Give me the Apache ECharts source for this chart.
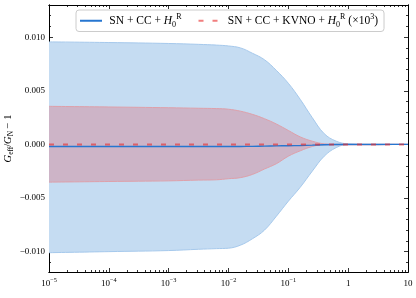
<!DOCTYPE html>
<html><head><meta charset="utf-8">
<script src="https://cdn.jsdelivr.net/npm/echarts@6.0.0/dist/echarts.min.js"></script>
<style>html,body{margin:0;padding:0;background:#fff}#c{width:416px;height:298px}</style>
</head><body><div id="c"></div>
<script>
const z = [1e-5, 1e-4, 1e-3, 0.00316, 0.0063, 0.01, 0.0158, 0.0251, 0.0398, 0.0631, 0.1, 0.158, 0.251, 0.398, 0.631, 1, 3.16, 10];
const blueUpper = [0.00956, 0.0095, 0.00941, 0.00933, 0.00926, 0.00918, 0.0090, 0.0085, 0.0079, 0.0069, 0.0057, 0.0042, 0.0025, 0.0010, 0.0003, 0.00005, 0, 0];
const blueLower = [-0.0101, -0.0100, -0.0099, -0.00978, -0.00972, -0.00968, -0.0094, -0.0088, -0.0080, -0.0067, -0.0053, -0.0040, -0.0025, -0.0011, -0.0003, 0, 0, 0];
const redUpper = [0.00355, 0.00349, 0.00342, 0.00337, 0.00334, 0.00328, 0.0031, 0.0028, 0.0024, 0.0019, 0.0013, 0.0007, 0.0003, 0.00005, 0, 0, 0, 0];
const redLower = [-0.00352, -0.00346, -0.0034, -0.00333, -0.0033, -0.0032, -0.0031, -0.0028, -0.0023, -0.0018, -0.0011, -0.0006, -0.0002, 0, 0, 0, 0, 0];
const blueLine = [-0.0002, -0.0002, -0.0002, -0.0002, -0.0002, -0.0002, -0.00019, -0.00018, -0.00016, -0.00014, -0.00012, -0.0001, -0.00007, -0.00003, -0.00001, 0, 0, 0];
const redLine = [0, 0, 0, 0, 0, 0, 0, 0, 0, 0, 0, 0, 0, 0, 0, 0, 0, 0];
const yTicks = [-0.01, -0.005, 0, 0.005, 0.01];
const yMinor = [-0.011, -0.009, -0.008, -0.007, -0.006, -0.004, -0.003, -0.002, -0.001, 0.001, 0.002, 0.003, 0.004, 0.006, 0.007, 0.008, 0.009, 0.011, 0.012];
const xTicks = [1e-5, 1e-4, 1e-3, 1e-2, 1e-1, 1, 10];
const xTickLabels = ['10{sup|−5}', '10{sup|−4}', '10{sup|−3}', '10{sup|−2}', '10{sup|−1}', '1', '10'];
const xMinor = [2e-5,3e-5,4e-5,5e-5,6e-5,7e-5,8e-5,9e-5,
  2e-4,3e-4,4e-4,5e-4,6e-4,7e-4,8e-4,9e-4,
  2e-3,3e-3,4e-3,5e-3,6e-3,7e-3,8e-3,9e-3,
  2e-2,3e-2,4e-2,5e-2,6e-2,7e-2,8e-2,9e-2,
  0.2,0.3,0.4,0.5,0.6,0.7,0.8,0.9,
  2,3,4,5,6,7,8,9];
const legendNames = ['SN + CC + H0R', 'SN + CC + KVNO + H0R (×10³)'];
const legendRich = ['\u2009SN + CC + {i|H}{sub|0}{sup|R}', '\u2009SN + CC + KVNO + {i|H}{sub|0}{sup|R} (×10{sup|3})'];

const FONT = 'Liberation Serif';
const X_MIN = 1e-5, X_MAX = 10, Y_MIN = -0.0119, Y_MAX = 0.013;

function pairs(a) { return z.map((x, i) => [x, a[i]]); }

function richSet(base) {
  const lh = base + 4, s = base * 0.7;
  return {
    sup: { fontSize: s, verticalAlign: 'top', lineHeight: lh, fontFamily: FONT, color: '#000' },
    sub: { fontSize: s, verticalAlign: 'bottom', lineHeight: lh, fontFamily: FONT, color: '#000' },
    i: { fontStyle: 'italic', fontSize: base, lineHeight: lh, fontFamily: FONT, color: '#000' }
  };
}

function xAxisDef(pos, major) {
  return {
    type: 'log', min: X_MIN, max: X_MAX, position: pos,
    axisLine: { show: true, onZero: false, lineStyle: { color: '#000', width: 1 } },
    axisTick: { show: true, inside: true, length: major ? 4 : 2, customValues: major ? xTicks : xMinor, lineStyle: { color: '#000', width: 0.8 } },
    axisLabel: (pos === 'bottom' && major) ? {
      show: true, customValues: xTicks, margin: 5, fontFamily: FONT, fontSize: 9, color: '#000', lineHeight: 13,
      formatter: function (v) { const e = Math.round(Math.log10(v)); return xTickLabels[e + 5]; },
      rich: richSet(9)
    } : { show: false },
    splitLine: { show: false }, minorTick: { show: false }, minorSplitLine: { show: false },
    name: (pos === 'bottom' && major) ? 'z' : '', nameLocation: 'middle', nameGap: 19,
    nameTextStyle: { fontFamily: FONT, fontStyle: 'italic', fontSize: 10, color: '#000' }
  };
}
function yAxisDef(pos, major) {
  return {
    type: 'value', min: Y_MIN, max: Y_MAX, position: pos,
    axisLine: { show: true, onZero: false, lineStyle: { color: '#000', width: 1 } },
    axisTick: { show: true, inside: true, length: major ? 4 : 2, customValues: major ? yTicks : yMinor, lineStyle: { color: '#000', width: 0.8 } },
    axisLabel: (pos === 'left' && major) ? {
      show: true, customValues: yTicks, margin: 4, fontFamily: FONT, fontSize: 9, color: '#000',
      formatter: function (v) { return (v < -1e-9 ? '−' : '') + Math.abs(v).toFixed(3); }
    } : { show: false },
    splitLine: { show: false },
    name: (pos === 'left' && major) ? '{i|G}{sub|eff}/{i|G}{sub|N} − 1' : '',
    nameLocation: 'middle', nameRotate: 90, nameGap: 34, nameMoveOverlap: false,
    nameTextStyle: { fontFamily: FONT, fontSize: 10.5, color: '#000', lineHeight: 14, rich: richSet(10.5) }
  };
}

function band(name, arr, stroke, fill, origin, zz) {
  return { name: name, type: 'line', data: pairs(arr), symbol: 'none', smooth: 0.4, silent: true, z: zz,
    lineStyle: { color: stroke, width: 1 }, areaStyle: { color: fill, opacity: 1, origin: origin } };
}

const chart = echarts.init(document.getElementById('c'), null, { renderer: 'canvas' });
chart.setOption({
  animation: false,
  backgroundColor: '#fff',
  grid: { left: 49, right: 8, top: 5, bottom: 26, outerBoundsMode: 'none', containLabel: false },
  legend: {
    data: legendNames, left: 76, top: 10, orient: 'horizontal',
    padding: [3, 6, 3, 3], itemGap: 16, itemWidth: 22, itemHeight: 10,
    borderColor: '#cccccc', borderWidth: 1, borderRadius: 3, backgroundColor: '#fff',
    itemStyle: { opacity: 0 },
    textStyle: { fontFamily: FONT, fontSize: 11.5, color: '#000', lineHeight: 14, rich: richSet(11.5) },
    formatter: function (n) { return legendRich[legendNames.indexOf(n)]; }
  },
  xAxis: [xAxisDef('bottom', true), xAxisDef('bottom', false), xAxisDef('top', true), xAxisDef('top', false)],
  yAxis: [yAxisDef('left', true), yAxisDef('left', false), yAxisDef('right', true), yAxisDef('right', false)],
  series: [
    band('bu', blueUpper, '#a6c9ec', '#c5dcf2', -0.0001, 1),
    band('bl', blueLower, '#a6c9ec', '#c5dcf2', 0, 1),
    band('ru', redUpper, '#dea0aa', '#cdb4c7', -0.0001, 2),
    band('rl', redLower, '#dea0aa', '#cdb4c7', 0, 2),
    { name: legendNames[0], type: 'line', data: pairs(blueLine), symbol: 'none', smooth: 0.4,
      lineStyle: { color: '#2676d0', width: 1.4 }, itemStyle: { color: '#2676d0' }, z: 3 },
    { name: legendNames[1], type: 'line', data: pairs(redLine), symbol: 'none',
      lineStyle: { color: 'rgba(232,40,40,0.6)', width: 2, type: [5, 9] }, itemStyle: { color: 'rgba(232,40,40,0.6)' }, z: 4 }
  ]
});
</script></body></html>
